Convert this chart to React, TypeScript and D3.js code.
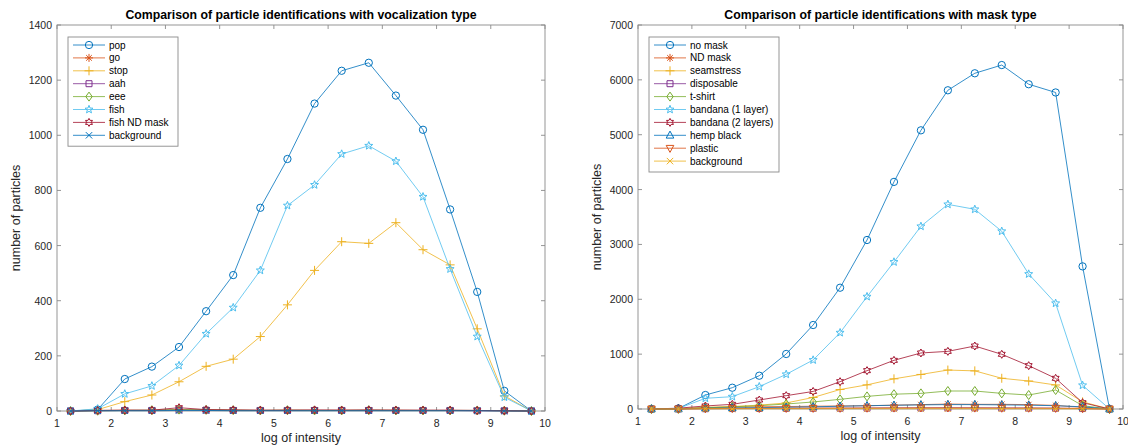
import React from "react";
import * as d3 from "d3";

// ---------- data ----------
const X_VALUES = [1.25, 1.75, 2.25, 2.75, 3.25, 3.75, 4.25, 4.75, 5.25, 5.75, 6.25, 6.75, 7.25, 7.75, 8.25, 8.75, 9.25, 9.75];
const X_TICKS = [1, 2, 3, 4, 5, 6, 7, 8, 9, 10];

// Left panel: vocalization type
const VOCAL_TICKS_Y = [0, 200, 400, 600, 800, 1000, 1200, 1400];
const pop = [0, 5, 116, 161, 232, 362, 493, 737, 914, 1115, 1234, 1263, 1144, 1020, 731, 432, 73, 0];
const go = [0, 2, 3, 2, 5, 4, 3, 2, 3, 2, 3, 2, 3, 2, 2, 2, 1, 0];
const stop = [0, 5, 34, 58, 106, 162, 188, 270, 385, 510, 614, 608, 683, 585, 530, 298, 55, 0];
const aah = [0, 1, 2, 2, 4, 3, 2, 2, 2, 2, 2, 2, 2, 2, 2, 1, 1, 0];
const eee = [0, 1, 2, 3, 5, 4, 3, 2, 3, 2, 2, 3, 2, 2, 2, 2, 1, 0];
const fish = [0, 8, 62, 91, 165, 280, 375, 510, 745, 820, 932, 962, 906, 777, 515, 270, 50, 0];
const fishND = [0, 2, 3, 3, 12, 5, 4, 3, 3, 4, 3, 4, 3, 3, 3, 2, 1, 0];
const vocalBackground = [0, 1, 1, 1, 2, 2, 1, 1, 1, 1, 1, 1, 1, 1, 1, 1, 0, 0];
const VOCAL_NAMES = ["pop", "go", "stop", "aah", "eee", "fish", "fish ND mask", "background"];
const VOCAL_VALUES = [pop, go, stop, aah, eee, fish, fishND, vocalBackground];
const VOCAL_MARKERS = ["o", "*", "+", "s", "d", "p", "h", "x"];

// Right panel: mask type
const MASK_TICKS_Y = [0, 1000, 2000, 3000, 4000, 5000, 6000, 7000];
const noMask = [0, 10, 255, 388, 607, 1003, 1531, 2211, 3081, 4140, 5080, 5810, 6120, 6270, 5920, 5770, 2600, 0];
const ndMask = [0, 2, 25, 35, 40, 45, 50, 55, 60, 70, 80, 90, 85, 85, 80, 65, 30, 0];
const seamstress = [0, 5, 30, 45, 70, 110, 210, 355, 440, 550, 630, 710, 695, 560, 510, 438, 130, 0];
const disposable = [0, 1, 5, 8, 10, 12, 14, 15, 16, 18, 18, 20, 20, 18, 17, 15, 8, 0];
const tshirt = [0, 3, 20, 40, 60, 91, 128, 176, 230, 270, 285, 328, 328, 285, 255, 346, 60, 0];
const bandana1 = [0, 10, 195, 225, 407, 632, 893, 1391, 2048, 2680, 3330, 3730, 3640, 3240, 2460, 1927, 432, 0];
const bandana2 = [0, 15, 55, 85, 164, 243, 320, 498, 699, 887, 1021, 1051, 1148, 997, 790, 559, 115, 0];
const hempBlack = [0, 2, 15, 20, 25, 32, 40, 50, 60, 68, 75, 80, 80, 75, 70, 60, 40, 0];
const plastic = [0, 1, 8, 10, 12, 14, 15, 16, 18, 20, 22, 22, 20, 18, 18, 15, 8, 0];
const maskBackground = [0, 1, 3, 4, 5, 5, 6, 6, 6, 6, 6, 6, 6, 6, 5, 5, 3, 0];
const MASK_NAMES = ["no mask", "ND mask", "seamstress", "disposable", "t-shirt", "bandana (1 layer)", "bandana (2 layers)", "hemp black", "plastic", "background"];
const MASK_VALUES = [noMask, ndMask, seamstress, disposable, tshirt, bandana1, bandana2, hempBlack, plastic, maskBackground];
const MASK_MARKERS = ["o", "*", "+", "s", "d", "p", "h", "^", "v", "x"];

const COLORS = ["#0072BD", "#D95319", "#EDB120", "#7E2F8E", "#77AC30", "#4DBEEE", "#A2142F"];

// ---------- markers ----------
function starPath(points: number, outer: number, inner: number) {
  const pts: string[] = [];
  for (let i = 0; i < points * 2; i++) {
    const r = i % 2 === 0 ? outer : inner;
    const a = (Math.PI * i) / points - Math.PI / 2;
    pts.push(`${(r * Math.cos(a)).toFixed(2)},${(r * Math.sin(a)).toFixed(2)}`);
  }
  return "M" + pts.join("L") + "Z";
}

function markerPath(m: string): string {
  switch (m) {
    case "o":
      return d3.symbol(d3.symbolCircle, 42)() as string;
    case "*":
      return "M-4,0H4M0,-4V4M-2.8,-2.8L2.8,2.8M-2.8,2.8L2.8,-2.8";
    case "+":
      return "M-4.5,0H4.5M0,-4.5V4.5";
    case "s":
      return "M-3,-3H3V3H-3Z";
    case "d":
      return "M0,-4.5L3.2,0L0,4.5L-3.2,0Z";
    case "p":
      return starPath(5, 4.2, 1.8);
    case "h":
      return starPath(6, 4, 2.3);
    case "^":
      return "M0,-4.2L3.8,2.8L-3.8,2.8Z";
    case "v":
      return "M0,4.2L3.8,-2.8L-3.8,-2.8Z";
    case "x":
      return "M-3.2,-3.2L3.2,3.2M-3.2,3.2L3.2,-3.2";
    default:
      return "";
  }
}

const FONT = "'Liberation Sans', Arial, Helvetica, sans-serif";
const AXIS_COLOR = "#8a8a8a";
const TEXT_COLOR = "#262626";

type PanelProps = {
  left: number;
  right: number;
  top: number;
  bottom: number;
  yMax: number;
  yTicks: number[];
  title: string;
  names: string[];
  values: number[][];
  markers: string[];
  legendWidth: number;
  yLabelX: number;
};

function Panel(p: PanelProps) {
  const x = d3.scaleLinear().domain([1, 10]).range([p.left, p.right]);
  const y = d3.scaleLinear().domain([0, p.yMax]).range([p.bottom, p.top]);
  const line = d3
    .line<[number, number]>()
    .x((d) => x(d[0]))
    .y((d) => y(d[1]));
  const tickLen = 4;
  const legendX = p.left + 11;
  const legendY = p.top + 12;
  const rowH = 12.9;
  const legendH = p.names.length * rowH + 6;

  return (
    <g>
      {/* title */}
      <text
        x={(p.left + p.right) / 2}
        y={p.top - 6}
        textAnchor="middle"
        fontFamily={FONT}
        fontWeight="bold"
        fontSize={12.3}
        fill="#000"
      >
        {p.title}
      </text>
      {/* box */}
      <rect x={p.left} y={p.top} width={p.right - p.left} height={p.bottom - p.top} fill="#fff" stroke={AXIS_COLOR} strokeWidth={0.9} />
      {/* x ticks */}
      {X_TICKS.map((t) => (
        <g key={"xt" + t}>
          <line x1={x(t)} x2={x(t)} y1={p.bottom} y2={p.bottom - tickLen} stroke={AXIS_COLOR} strokeWidth={0.9} />
          <line x1={x(t)} x2={x(t)} y1={p.top} y2={p.top + tickLen} stroke={AXIS_COLOR} strokeWidth={0.9} />
          <text x={x(t)} y={p.bottom + 16} textAnchor="middle" fontFamily={FONT} fontSize={10.5} fill={TEXT_COLOR}>
            {t}
          </text>
        </g>
      ))}
      {/* y ticks */}
      {p.yTicks.map((t) => (
        <g key={"yt" + t}>
          <line x1={p.left} x2={p.left + tickLen} y1={y(t)} y2={y(t)} stroke={AXIS_COLOR} strokeWidth={0.9} />
          <line x1={p.right} x2={p.right - tickLen} y1={y(t)} y2={y(t)} stroke={AXIS_COLOR} strokeWidth={0.9} />
          <text x={p.left - 5} y={y(t) + 4} textAnchor="end" fontFamily={FONT} fontSize={10.5} fill={TEXT_COLOR}>
            {t}
          </text>
        </g>
      ))}
      {/* axis labels */}
      <text x={(p.left + p.right) / 2} y={p.bottom + 31} textAnchor="middle" fontFamily={FONT} fontSize={12.5} fill={TEXT_COLOR}>
        log of intensity
      </text>
      <text
        transform={`translate(${p.yLabelX},${(p.top + p.bottom) / 2}) rotate(-90)`}
        textAnchor="middle"
        fontFamily={FONT}
        fontSize={12.5}
        fill={TEXT_COLOR}
      >
        number of particles
      </text>
      {/* series */}
      {p.values.map((vals, i) => {
        const color = COLORS[i % COLORS.length];
        const pts: [number, number][] = X_VALUES.map((xv, j) => [xv, vals[j]]);
        return (
          <g key={"s" + i}>
            <path d={line(pts) as string} fill="none" stroke={color} strokeWidth={0.8} />
            {pts.map((d, j) => (
              <path
                key={j}
                d={markerPath(p.markers[i])}
                transform={`translate(${x(d[0])},${y(d[1])})`}
                fill="none"
                stroke={color}
                strokeWidth={1}
              />
            ))}
          </g>
        );
      })}
      {/* legend */}
      <rect x={legendX} y={legendY} width={p.legendWidth} height={legendH} fill="#fff" stroke={AXIS_COLOR} strokeWidth={0.9} />
      {p.names.map((n, i) => {
        const color = COLORS[i % COLORS.length];
        const cy = legendY + 8 + i * rowH;
        const lx = legendX + 5;
        return (
          <g key={"l" + i}>
            <line x1={lx} x2={lx + 32} y1={cy} y2={cy} stroke={color} strokeWidth={0.8} />
            <path d={markerPath(p.markers[i])} transform={`translate(${lx + 16},${cy})`} fill="none" stroke={color} strokeWidth={1} />
            <text x={lx + 36} y={cy + 3.5} fontFamily={FONT} fontSize={10} fill="#000">
              {n}
            </text>
          </g>
        );
      })}
    </g>
  );
}

export default function App() {
  return (
    <svg
      width={1128}
      height={446}
      style={{ position: "absolute", left: 0, top: 0, background: "#fff" }}
    >
      <rect x={0} y={0} width={1128} height={446} fill="#fff" />
      <Panel
        left={57}
        right={545}
        top={25}
        bottom={411}
        yMax={1400}
        yTicks={VOCAL_TICKS_Y}
        title="Comparison of particle identifications with vocalization type"
        names={VOCAL_NAMES}
        values={VOCAL_VALUES}
        markers={VOCAL_MARKERS}
        legendWidth={110}
        yLabelX={20}
      />
      <Panel
        left={638}
        right={1123}
        top={25}
        bottom={409}
        yMax={7000}
        yTicks={MASK_TICKS_Y}
        title="Comparison of particle identifications with mask type"
        names={MASK_NAMES}
        values={MASK_VALUES}
        markers={MASK_MARKERS}
        legendWidth={130}
        yLabelX={601}
      />
    </svg>
  );
}
